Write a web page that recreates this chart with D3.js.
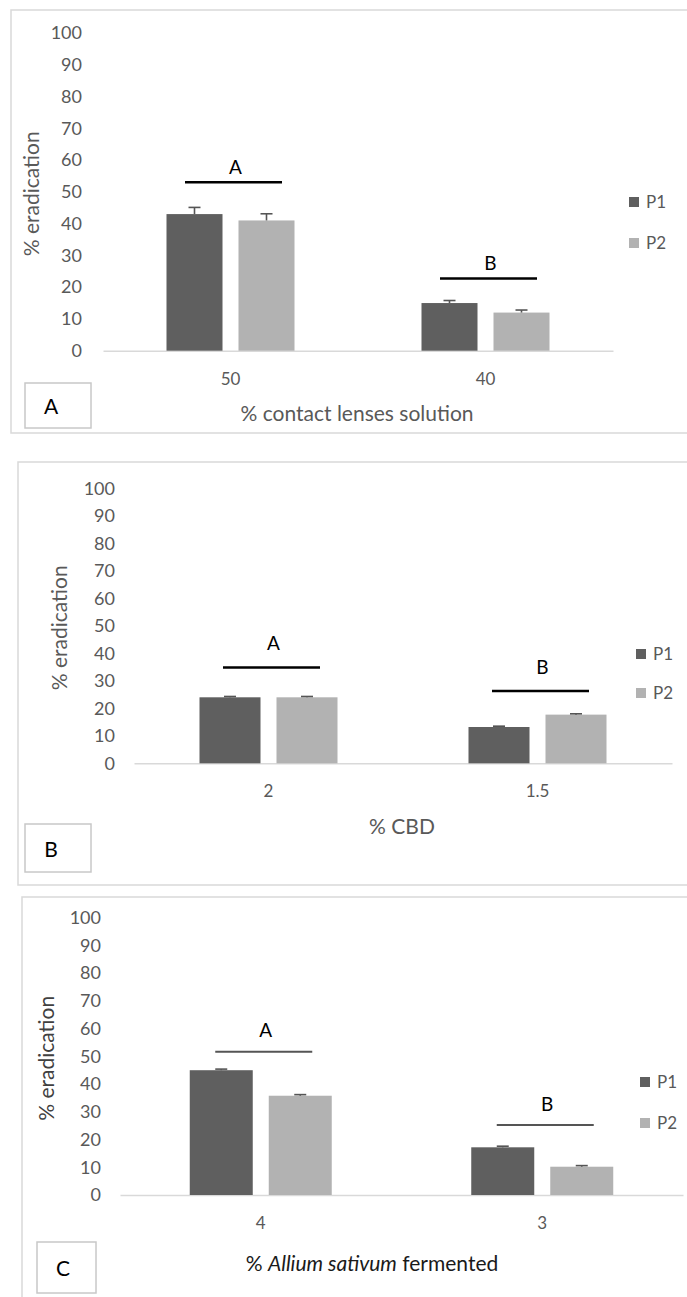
<!DOCTYPE html>
<html><head><meta charset="utf-8">
<script src="https://cdn.jsdelivr.net/npm/d3@7"></script>
<style>
html,body{margin:0;padding:0;background:#fff;}
svg{display:block;font-family:Lato,"Open Sans",sans-serif;}
</style></head>
<body><svg id="chart" width="687" height="1297"></svg>
<script>
// ---------- DATA ----------
const seriesNames = ["P1", "P2"];
const yTickValues = [0, 10, 20, 30, 40, 50, 60, 70, 80, 90, 100];

// Panel A
const catsA = ["50", "40"];
const p1A = [43, 15];
const p2A = [41, 12];
const errP1A = [2.1, 0.8];
const errP2A = [2.1, 0.8];
const sigA = [53, 22.7];
const sigLettersA = ["A", "B"];

// Panel B
const catsB = ["2", "1.5"];
const p1B = [24, 13.2];
const p2B = [24, 17.7];
const errP1B = [0.3, 0.3];
const errP2B = [0.3, 0.3];
const sigB = [34.8, 26.3];
const sigLettersB = ["A", "B"];

// Panel C
const catsC = ["4", "3"];
const p1C = [45, 17.2];
const p2C = [35.8, 10.2];
const errP1C = [0.4, 0.4];
const errP2C = [0.4, 0.4];
const sigC = [51.7, 25.2];
const sigLettersC = ["A", "B"];

// ---------- LAYOUT / STYLE ----------
const colors = {P1: "#5f5f5f", P2: "#b2b2b2"};
const panels = [
  {letter: "A", cats: catsA, p1: p1A, p2: p2A, e1: errP1A, e2: errP2A, sig: sigA, sigL: sigLettersA,
   frame: {x: 11, y: 10, w: 720, h: 423, bottom: true},
   x0: 103, x1: 613, y0: 350.7, y100: 33, bw: 56, gap: 16,
   tickRight: 82, yTitleX: 31, sigDy: 15,
   legendX: 629, legendY: [202, 243],
   catY: 379, xTitle: [{t: "% contact lenses solution"}], xTitleX: 357, xTitleY: 413, xTitleColor: "#595959",
   box: {x: 25, y: 383, w: 66, h: 45}, boxLetterX: 51, titleColor: "#595959", sigColor: "#000", sigW: 2.5},
  {letter: "B", cats: catsB, p1: p1B, p2: p2B, e1: errP1B, e2: errP2B, sig: sigB, sigL: sigLettersB,
   frame: {x: 18, y: 462, w: 720, h: 423, bottom: true},
   x0: 134, x1: 672, y0: 763.3, y100: 488.3, bw: 61, gap: 16,
   tickRight: 115, yTitleX: 59, sigDy: 24,
   legendX: 636, legendY: [654, 693],
   catY: 791, xTitle: [{t: "% CBD"}], xTitleX: 402, xTitleY: 826, xTitleColor: "#595959",
   box: {x: 25, y: 824, w: 66, h: 48}, boxLetterX: 51, titleColor: "#595959", sigColor: "#000", sigW: 2.5},
  {letter: "C", cats: catsC, p1: p1C, p2: p2C, e1: errP1C, e2: errP2C, sig: sigC, sigL: sigLettersC,
   frame: {x: 22, y: 897, w: 720, h: 500, bottom: false},
   x0: 120, x1: 683, y0: 1195, y100: 917.7, bw: 63, gap: 16,
   tickRight: 101, yTitleX: 46, sigDy: 21,
   legendX: 640, legendY: [1082, 1123],
   catY: 1223,
   xTitle: [{t: "% "}, {t: "Allium sativum", i: true}, {t: " fermented"}], xTitleX: 372, xTitleY: 1263, xTitleColor: "#1a1a1a",
   box: {x: 37, y: 1242, w: 59, h: 51}, boxLetterX: 63, titleColor: "#404040", sigColor: "#555", sigW: 2}
];

const svg = d3.select("#chart");
svg.append("rect").attr("width", 687).attr("height", 1297).attr("fill", "#fff");

panels.forEach(p => {
  const g = svg.append("g");
  // frame
  const f = p.frame;
  const framePath = f.bottom
    ? `M${f.x + f.w},${f.y + f.h}H${f.x}V${f.y}H${f.x + f.w}`
    : `M${f.x},${f.y + f.h}V${f.y}H${f.x + f.w}`;
  g.append("path").attr("d", framePath).attr("fill", "none").attr("stroke", "#d9d9d9").attr("stroke-width", 1.5);

  const y = d3.scaleLinear().domain([0, 100]).range([p.y0, p.y100]);
  const x = d3.scaleBand().domain(p.cats).range([p.x0, p.x1]).paddingInner(0).paddingOuter(0);
  const groupW = 2 * p.bw + p.gap;
  const xs = d3.scaleBand().domain(seriesNames).range([0, groupW])
    .paddingInner(p.gap / (p.bw + p.gap)).paddingOuter(0);
  const offset = (x.bandwidth() - groupW) / 2;

  // y axis labels (no line, no ticks)
  const yAxis = d3.axisLeft(y).tickValues(yTickValues).tickSize(0).tickPadding(0);
  const ya = g.append("g").attr("transform", `translate(${p.tickRight},0)`).call(yAxis);
  ya.select(".domain").remove();
  ya.selectAll("text").attr("font-family", "Lato").attr("font-size", 18).attr("fill", "#595959");

  // x baseline & category labels
  const xAxis = d3.axisBottom(x).tickSize(0).tickPadding(0);
  const xa = g.append("g").attr("transform", `translate(0,${p.y0})`).call(xAxis);
  xa.select(".domain").attr("stroke", "#d9d9d9").attr("stroke-width", 1.5);
  xa.selectAll("text").attr("font-family", "Lato").attr("font-size", 17).attr("fill", "#595959")
    .attr("y", p.catY - p.y0).attr("dy", "0.36em");

  // bars
  const rows = [];
  p.cats.forEach((c, i) => {
    rows.push({cat: c, s: "P1", v: p.p1[i], e: p.e1[i]});
    rows.push({cat: c, s: "P2", v: p.p2[i], e: p.e2[i]});
  });
  g.selectAll("rect.bar").data(rows).enter().append("rect").attr("class", "bar")
    .attr("x", d => x(d.cat) + offset + xs(d.s))
    .attr("width", xs.bandwidth())
    .attr("y", d => y(d.v))
    .attr("height", d => y(0) - y(d.v))
    .attr("fill", d => colors[d.s]);

  // error bars
  const eb = g.selectAll("g.err").data(rows).enter().append("g").attr("class", "err")
    .attr("stroke", "#555").attr("stroke-width", 1.6);
  eb.append("line")
    .attr("x1", d => x(d.cat) + offset + xs(d.s) + xs.bandwidth() / 2)
    .attr("x2", d => x(d.cat) + offset + xs(d.s) + xs.bandwidth() / 2)
    .attr("y1", d => y(d.v)).attr("y2", d => y(d.v + d.e));
  eb.append("line")
    .attr("x1", d => x(d.cat) + offset + xs(d.s) + xs.bandwidth() / 2 - 6)
    .attr("x2", d => x(d.cat) + offset + xs(d.s) + xs.bandwidth() / 2 + 6)
    .attr("y1", d => y(d.v + d.e)).attr("y2", d => y(d.v + d.e));

  // significance lines
  p.cats.forEach((c, i) => {
    const cx = x(c) + x.bandwidth() / 2 + 3;
    g.append("line").attr("x1", cx - 48.5).attr("x2", cx + 48.5)
      .attr("y1", y(p.sig[i])).attr("y2", y(p.sig[i]))
      .attr("stroke", p.sigColor).attr("stroke-width", p.sigW);
    g.append("text").attr("x", cx + 2).attr("y", y(p.sig[i]) - p.sigDy).attr("dy", "0.36em")
      .attr("text-anchor", "middle").attr("font-family", "Lato").attr("font-size", 19).attr("fill", "#000")
      .text(p.sigL[i]);
  });

  // y title
  g.append("text")
    .attr("transform", `translate(${p.yTitleX},${(p.y0 + p.y100) / 2 + 2}) rotate(-90)`)
    .attr("text-anchor", "middle").attr("dy", "0.36em")
    .attr("font-family", "Lato").attr("font-size", 21).attr("fill", p.titleColor)
    .text("% eradication");

  // x title
  const xt = g.append("text").attr("x", p.xTitleX).attr("y", p.xTitleY).attr("dy", "0.36em")
    .attr("text-anchor", "middle").attr("font-family", "Lato").attr("font-size", 21).attr("fill", p.xTitleColor);
  p.xTitle.forEach(part => {
    xt.append("tspan").attr("font-style", part.i ? "italic" : "normal").text(part.t);
  });

  // legend
  seriesNames.forEach((s, i) => {
    g.append("rect").attr("x", p.legendX).attr("y", p.legendY[i] - 5).attr("width", 10).attr("height", 10)
      .attr("fill", colors[s]);
    g.append("text").attr("x", p.legendX + 17).attr("y", p.legendY[i]).attr("dy", "0.36em")
      .attr("font-family", "Lato").attr("font-size", 17).attr("fill", "#595959").text(s);
  });

  // panel letter box
  g.append("rect").attr("x", p.box.x).attr("y", p.box.y).attr("width", p.box.w).attr("height", p.box.h)
    .attr("fill", "#fff").attr("stroke", "#c8c8c8").attr("stroke-width", 1.5);
  g.append("text").attr("x", p.boxLetterX).attr("y", p.box.y + p.box.h / 2 + 1).attr("dy", "0.36em")
    .attr("text-anchor", "middle").attr("font-family", "Lato").attr("font-size", 21).attr("fill", "#000")
    .text(p.letter);
});
</script></body></html>
